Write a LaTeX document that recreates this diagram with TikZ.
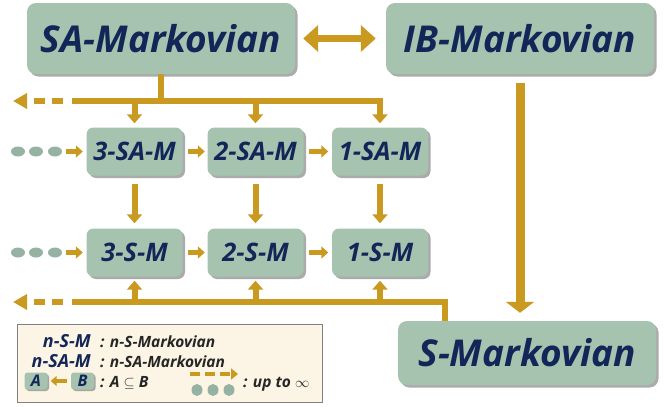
\documentclass[tikz,border=0pt]{standalone}
\usepackage{fontspec}
\setmainfont{Open Sans}
\usepackage{tikz}
\usetikzlibrary{arrows.meta,positioning,shapes.geometric,shadows}
\definecolor{boxgreen}{RGB}{166,195,176}
\definecolor{dotgreen}{RGB}{150,178,162}
\definecolor{navy}{RGB}{18,38,88}
\definecolor{gold}{RGB}{201,153,32}
\definecolor{cream}{RGB}{252,245,229}

\begin{document}
\begin{tikzpicture}[x=1pt,y=-1pt,
  shade/.style={drop shadow={shadow xshift=2.5pt,shadow yshift=-2.5pt,fill=black!60,opacity=0.55}},
  bigbox/.style={draw=none,fill=boxgreen,rounded corners=9pt,inner sep=0pt,minimum width=268pt,minimum height=71pt,text=navy,font=\fontsize{37}{37}\selectfont\bfseries\itshape,shade},
  smallbox/.style={draw=none,fill=boxgreen,rounded corners=7pt,inner sep=0pt,minimum width=96pt,minimum height=48pt,text=navy,font=\fontsize{25.5}{25.5}\selectfont\bfseries\itshape,shade},
  tinybox/.style={draw=none,fill=boxgreen,rounded corners=3pt,inner sep=0pt,minimum width=22pt,minimum height=15pt,text=navy,font=\fontsize{16}{16}\selectfont\bfseries\itshape,drop shadow={shadow xshift=1.5pt,shadow yshift=-1.5pt,fill=black!60,opacity=0.55}},
  dot/.style={ellipse,draw=none,fill=dotgreen,inner sep=0pt,minimum width=14pt,minimum height=10pt},
  legdot/.style={ellipse,draw=none,fill=dotgreen,inner sep=0pt,minimum width=11pt,minimum height=12pt},
  bus/.style={draw=gold,line width=6pt},
  busarrow/.style={bus,-{Triangle[width=15pt,length=9pt]}},
  busdash/.style={bus,dash pattern=on 11pt off 7pt,-{Triangle[width=15pt,length=14pt]}},
  harrow/.style={draw=gold,line width=5pt,-{Triangle[width=12pt,length=7pt]}},
  legkey/.style={text=navy,font=\fontsize{18}{18}\selectfont\bfseries\itshape,inner sep=0pt},
  legtxt/.style={text=black!85,font=\fontsize{15.5}{15.5}\selectfont\bfseries\itshape,inner sep=0pt}]
\useasboundingbox (0,0) rectangle (670,407);

\node[bigbox] (sam) at (161,38.5) {SA-Markovian};
\node[bigbox] (ibm) at (520,38.5) {IB-Markovian};
\node[bigbox,minimum width=258pt,minimum height=64pt] (sm) at (527,353) {S-Markovian};

\node[smallbox] (sa3) at (134.5,151.5) {3-SA-M};
\node[smallbox] (sa2) at (255.5,151.5) {2-SA-M};
\node[smallbox] (sa1) at (380,151.5) {1-SA-M};
\node[smallbox] (s3) at (134.5,252.5) {3-S-M};
\node[smallbox] (s2) at (255.5,252.5) {2-S-M};
\node[smallbox] (s1) at (380,252.5) {1-S-M};

\node[dot] (da1) at (18,151.5) {};
\node[dot] (da2) at (36,151.5) {};
\node[dot] (da3) at (55,151.5) {};
\node[dot] (db1) at (18,252.5) {};
\node[dot] (db2) at (36,252.5) {};
\node[dot] (db3) at (55,252.5) {};

\draw[draw=gold,line width=7pt,{Triangle[width=26pt,length=15pt]}-{Triangle[width=26pt,length=15pt]},shorten <=8pt,shorten >=10pt] (sam) -- (ibm);
\draw[draw=gold,line width=9pt,-{Triangle[width=28pt,length=11pt]},shorten <=9pt,shorten >=8pt] (ibm.south) -- (ibm.south |- sm.north);

\coordinate (topL) at (72,101);
\coordinate (topR) at (380,101);
\coordinate (topD) at (63,101);
\coordinate (topE) at (13,101);
\draw[bus] (sam.south) -- (sam.south |- topL);
\draw[busarrow,shorten >=4pt] (topL) -- (topR) -- (sa1.north);
\draw[busarrow,shorten >=4pt] (sa3.north |- topL) -- (sa3.north);
\draw[busarrow,shorten >=4pt] (sa2.north |- topL) -- (sa2.north);
\draw[busdash] (topD) -- (topE);

\coordinate (botL) at (72,302);
\coordinate (botR) at (445,302);
\coordinate (botD) at (63,302);
\coordinate (botE) at (13,302);
\draw[bus] (sm.north -| botR) -- (botR) -- (botL);
\draw[busarrow,shorten >=4pt] (s3.south |- botL) -- (s3.south);
\draw[busarrow,shorten >=4pt] (s2.south |- botL) -- (s2.south);
\draw[busarrow,shorten >=4pt] (s1.south |- botL) -- (s1.south);
\draw[busdash] (botD) -- (botE);

\draw[busarrow,shorten <=8pt,shorten >=5pt] (sa3) -- (s3);
\draw[busarrow,shorten <=8pt,shorten >=5pt] (sa2) -- (s2);
\draw[busarrow,shorten <=8pt,shorten >=5pt] (sa1) -- (s1);

\draw[harrow,shorten <=4pt,shorten >=3.5pt] (da3) -- (sa3);
\draw[harrow,shorten <=5.5pt,shorten >=2.5pt] (sa3) -- (sa2);
\draw[harrow,shorten <=5.5pt,shorten >=3.5pt] (sa2) -- (sa1);
\draw[harrow,shorten <=4pt,shorten >=3.5pt] (db3) -- (s3);
\draw[harrow,shorten <=5.5pt,shorten >=2.5pt] (s3) -- (s2);
\draw[harrow,shorten <=5.5pt,shorten >=3.5pt] (s2) -- (s1);

\node[draw=black!50,fill=cream,inner sep=0pt,minimum width=305pt,minimum height=78pt] (leg) at (169.5,363) {};
\node[legkey,anchor=base east] (k1) at (91,347) {n-S-M};
\node[legtxt,anchor=base west] (t1) at (100,347) {: n-S-Markovian};
\node[legkey,anchor=base east] (k2) at (91,367) {n-SA-M};
\node[legtxt,anchor=base west] (t2) at (100,367) {: n-SA-Markovian};
\node[tinybox,minimum width=23pt,minimum height=17pt] (la) at (36,381) {A};
\node[tinybox,minimum width=23pt,minimum height=17pt] (lb) at (82.5,381) {B};
\draw[draw=gold,line width=4pt,-{Triangle[width=10pt,length=6pt]},shorten <=4pt,shorten >=3pt] (lb) -- (la);
\node[legtxt,anchor=base west] (t3) at (100,387) {: A $\subseteq$ B};
\node[legdot] (lo1) at (197,390) {};
\node[legdot] (lo2) at (213,390) {};
\node[legdot] (lo3) at (229,390) {};
\coordinate (ldS) at (190,374);
\coordinate (ldE) at (238,374);
\draw[draw=gold,line width=4.5pt,dash pattern=on 10pt off 5pt,-{Triangle[width=11pt,length=7pt]}] (ldS) -- (ldE);
\node[legtxt,anchor=base west] (t4) at (243,387) {: up to $\infty$};
\end{tikzpicture}
\end{document}
